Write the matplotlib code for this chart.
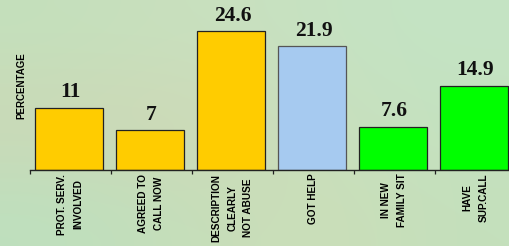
import numpy as np
import matplotlib
matplotlib.use("Agg")
import matplotlib.pyplot as plt

# chart data
categories = ["PROT. SERV.\nINVOLVED", "AGREED TO\nCALL NOW", "DESCRIPTION\nCLEARLY\nNOT ABUSE",
              "GOT HELP", "IN NEW\nFAMILY SIT", "HAVE\nSUP.CALL"]
values = [11, 7, 24.6, 21.9, 7.6, 14.9]
value_labels = ["11", "7", "24.6", "21.9", "7.6", "14.9"]
bar_colors = ["#FFCC00", "#FFCC00", "#FFCC00", "#A6CAF0", "#00FF00", "#00FF00"]
edge_colors = ["#222222", "#222222", "#222222", "#555555", "#222222", "#222222"]

fig = plt.figure(figsize=(5.1, 2.46), dpi=100)

# soft paper-like background (smooth colour field)
bg = fig.add_axes([0, 0, 1, 1], zorder=0)
grid = np.array([
    [[196, 224, 188], [202, 224, 190], [198, 226, 194], [196, 228, 196]],
    [[204, 216, 182], [208, 216, 182], [200, 224, 190], [196, 226, 192]],
    [[190, 224, 190], [198, 222, 186], [204, 222, 184], [196, 224, 188]],
]) / 255.0
bg.imshow(grid, aspect="auto", interpolation="bicubic", extent=[0, 1, 0, 1])
bg.axis("off")

ax = fig.add_axes([30 / 510, 1 - 169.5 / 246, 486 / 510, 157.6 / 246], zorder=1)
ax.set_facecolor("none")

x = np.arange(len(values))
bars = ax.bar(x - 0.015, values, width=0.835, color=bar_colors, edgecolor=edge_colors, linewidth=0.9)

for xi, v, lab in zip(x, values, value_labels):
    ax.annotate(lab, (xi, v), xytext=(0, 7.5), textcoords="offset points",
                ha="center", va="baseline", fontsize=15.5, fontweight="bold",
                family="Liberation Serif", color="#111111")

ax.set_xlim(-0.5, 5.5)
ax.set_ylim(0, 28)
ax.set_yticks([])
for s in ["left", "top", "right"]:
    ax.spines[s].set_visible(False)
ax.spines["bottom"].set_linewidth(1.0)
ax.spines["bottom"].set_color("#222222")

ax.set_xticks(x)
ax.set_xticklabels(categories, rotation=90, fontsize=7.2, fontweight="bold",
                   family="Liberation Sans", linespacing=1.75,
                   multialignment="center")
ax.tick_params(axis="x", which="major", length=0, pad=3)
ax.set_xticks(np.arange(-0.5, 6, 1), minor=True)
ax.tick_params(axis="x", which="minor", length=3, width=0.9, color="#222222")

fig.text(21 / 510, 1 - 86 / 246, "PERCENTAGE", rotation=90, ha="center", va="center",
         fontsize=7.0, fontweight="bold", family="Liberation Sans")

fig.savefig("out.png", dpi=100)
